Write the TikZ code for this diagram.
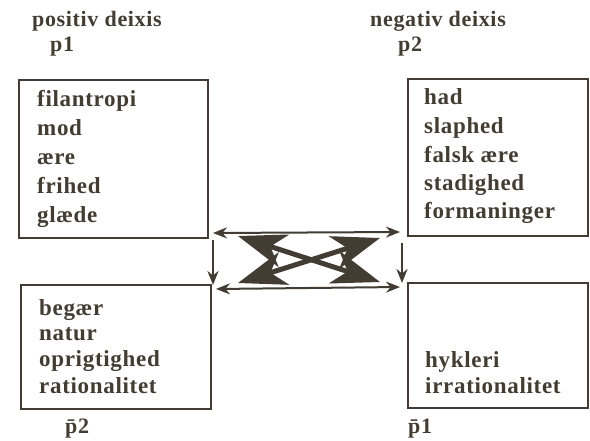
\documentclass[tikz,border=0pt]{standalone}
\usepackage{fontspec}
\setmainfont{Liberation Serif}[LetterSpace=3]
\usetikzlibrary{arrows.meta}
\definecolor{ink}{RGB}{66,60,50}
\begin{document}
\begin{tikzpicture}[x=1pt,y=-1pt,
  box/.style={draw=ink, line width=2.2pt, anchor=north west, inner sep=0pt},
  lbl/.style={anchor=base west, inner sep=0pt, text=ink, font=\fontsize{23}{26}\selectfont\bfseries},
  hdr/.style={anchor=base west, inner sep=0pt, text=ink, font=\fontsize{22}{24}\selectfont\bfseries},
  thin/.style={draw=ink, line width=2pt, {Stealth[length=14pt,width=11pt]}-{Stealth[length=14pt,width=11pt]}},
  down/.style={draw=ink, line width=2pt, -{Stealth[length=14pt,width=11pt]}},
  bolt/.style={draw=ink, line width=5pt, {Stealth[length=48pt,width=34pt,inset=14pt]}-{Stealth[length=48pt,width=34pt,inset=14pt]}}
]
\useasboundingbox (0,0) rectangle (590,440);

% headers
\node[hdr] (h1) at (32,26) {positiv deixis};
\node[hdr] (h1p) at (50,51) {p1};
\node[hdr] (h2) at (370,26) {negativ deixis};
\node[hdr] (h2p) at (398,51) {p2};

% boxes
\node[box, minimum width=189pt, minimum height=158pt] (tl) at (18,79) {};
\node[box, minimum width=180pt, minimum height=157pt] (tr) at (407,78) {};
\node[box, minimum width=190pt, minimum height=124pt] (bl) at (20,284) {};
\node[box, minimum width=180pt, minimum height=125pt] (br) at (407,282) {};

% texts top-left
\node[lbl] (t1) at (37,106) {filantropi};
\node[lbl] (t2) at (37,135) {mod};
\node[lbl] (t3) at (37,164) {ære};
\node[lbl] (t4) at (37,193) {frihed};
\node[lbl] (t5) at (37,222) {glæde};
% texts top-right
\node[lbl] (r1) at (424,104) {had};
\node[lbl] (r2) at (424,133) {slaphed};
\node[lbl] (r3) at (424,162) {falsk ære};
\node[lbl] (r4) at (424,190) {stadighed};
\node[lbl] (r5) at (424,218) {formaninger};
% texts bottom-left
\node[lbl] (b1) at (39,315) {begær};
\node[lbl] (b2) at (39,340) {natur};
\node[lbl] (b3) at (39,366) {oprigtighed};
\node[lbl] (b4) at (39,393) {rationalitet};
% texts bottom-right
\node[lbl] (c1) at (425,367) {hykleri};
\node[lbl] (c2) at (425,393) {irrationalitet};

% bottom labels
\node[hdr] (f1) at (65,433) {p\char"0304 2};
\node[hdr] (f2) at (408,433) {p\char"0304 1};

% connectors
\coordinate (ha) at (213,233);
\coordinate (hb) at (400,232);
\coordinate (la) at (216,289);
\coordinate (lb) at (400,287);
\coordinate (va) at (213,240);
\coordinate (vb) at (213,285);
\coordinate (wa) at (402,243);
\coordinate (wb) at (402,283);
\draw[thin] (ha) -- (hb);
\draw[thin] (la) -- (lb);
\draw[down] (va) -- (vb);
\draw[down] (wa) -- (wb);

\coordinate (xa) at (238,236);
\coordinate (xb) at (380,282);
\coordinate (ya) at (238,283);
\coordinate (yb) at (380,238);
\draw[bolt] (xa) -- (xb);
\draw[bolt] (ya) -- (yb);
\end{tikzpicture}
\end{document}
